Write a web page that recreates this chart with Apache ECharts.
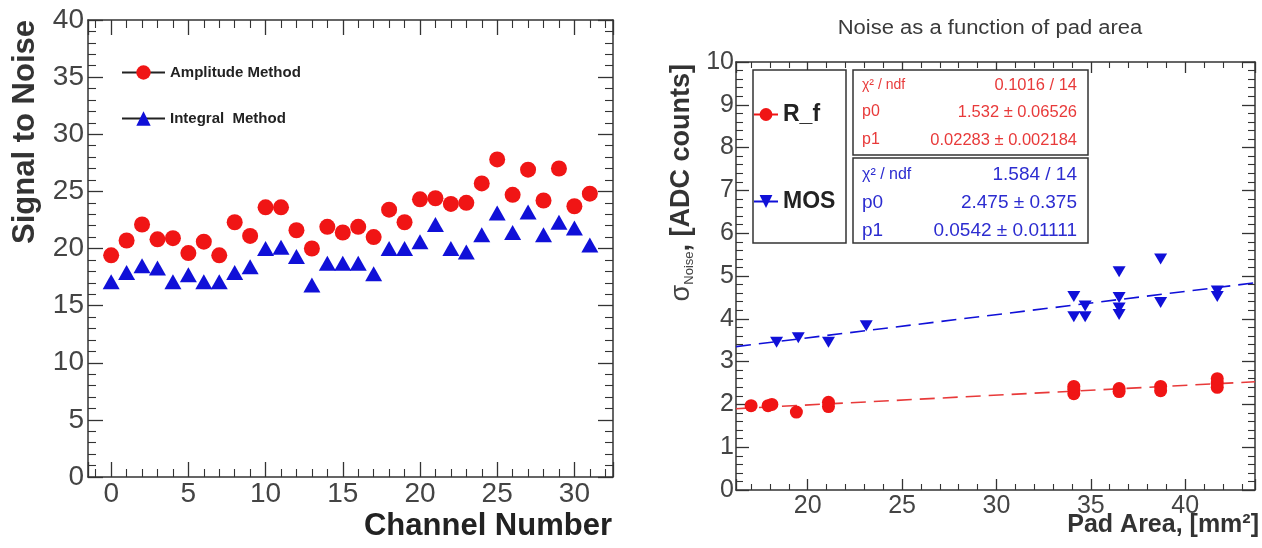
<!DOCTYPE html>
<html>
<head>
<meta charset="utf-8">
<script src="https://cdn.jsdelivr.net/npm/echarts@6/dist/echarts.min.js"></script>
<style>
html,body{margin:0;padding:0;background:#fff;}
#chart{width:1262px;height:548px;}
</style>
</head>
<body>
<div id="chart"></div>
<script>
// ---- Left panel data: Signal to Noise vs Channel ----
const channels = [0,1,2,3,4,5,6,7,8,9,10,11,12,13,14,15,16,17,18,19,20,21,22,23,24,25,26,27,28,29,30,31];
const amplitudeSN = [19.4,20.7,22.1,20.8,20.9,19.6,20.6,19.4,22.3,21.1,23.6,23.6,21.6,20.0,21.9,21.4,21.9,21.0,23.4,22.3,24.3,24.4,23.9,24.0,25.7,27.8,24.7,26.9,24.2,27.0,23.7,24.8];
const integralSN  = [17.1,17.9,18.5,18.3,17.1,17.7,17.1,17.1,17.9,18.4,20.0,20.1,19.3,16.8,18.7,18.7,18.7,17.8,20.0,20.0,20.6,22.1,20.0,19.7,21.2,23.1,21.4,23.2,21.2,22.3,21.8,20.3];

// ---- Right panel data: Noise vs pad area ----
const rfArea  = [17.0,17.9,18.1,19.4,21.1,21.1,34.1,34.1,34.1,36.5,36.5,38.7,38.7,41.7,41.7,41.7];
const rfNoise = [1.97,1.97,2.00,1.82,1.95,2.05,2.25,2.35,2.42,2.30,2.37,2.32,2.42,2.40,2.50,2.60];
const mosArea  = [18.35,19.5,21.1,23.1,34.1,34.1,34.7,34.7,36.5,36.5,36.5,36.5,38.7,38.7,41.7,41.7];
const mosNoise = [3.45,3.56,3.45,3.84,4.52,4.05,4.30,4.05,5.10,4.50,4.25,4.10,5.40,4.38,4.65,4.52];
// fit line end points
const rfFitX = [16.2, 43.7];
const rfFitY = [1.90, 2.53];
const mosFitX = [16.2, 43.7];
const mosFitY = [3.35, 4.84];

// stats box texts
const rfStats = [["\u03c7\u00b2 / ndf","0.1016 / 14"],["p0","1.532 \u00b1 0.06526"],["p1","0.02283 \u00b1 0.002184"]];
const mosStats = [["\u03c7\u00b2 / ndf","1.584 / 14"],["p0","2.475 \u00b1 0.375"],["p1","0.0542 \u00b1 0.01111"]];

const RED = '#f01515';
const BLUE = '#1010d8';
const RED_T = '#e83a3a';
const BLUE_T = '#2c2cd0';
const AX = '#333';
const FONT = 'Liberation Sans, Arial, sans-serif';

const zip = (a, b) => a.map((v, i) => [v, b[i]]);

function mkAxis(o) {
  const base = {
    type: 'value',
    splitLine: {show: false},
    axisLine: {show: true, onZero: false, lineStyle: {color: AX, width: 1.5}},
    axisTick: {show: true, inside: true, length: o.tl, lineStyle: {color: AX, width: 1.3}},
    minorTick: {show: true, splitNumber: o.minor, length: o.ml, lineStyle: {color: AX, width: 1.1}},
    axisLabel: o.labels ? {show: true, fontFamily: FONT, fontSize: o.fs, color: '#444', margin: o.margin,
      showMinLabel: o.showMin, showMaxLabel: o.showMax} : {show: false}
  };
  return Object.assign(base, o.extra);
}

const chart = echarts.init(document.getElementById('chart'), null, {renderer: 'canvas'});

const graphics = [];
// Title of right panel
graphics.push({type: 'text', x: 990, y: 28, scaleX: 1.1, z: 10,
  style: {text: 'Noise as a function of pad area', font: '20px ' + FONT, fill: '#3a3a3a', align: 'center', verticalAlign: 'middle'}});
// Axis titles
graphics.push({type: 'text', x: 25, y: 20, rotation: Math.PI / 2, z: 10,
  style: {text: 'Signal to Noise', font: 'bold 31px ' + FONT, fill: '#333', align: 'right', verticalAlign: 'middle'}});
graphics.push({type: 'text', x: 612, y: 526, z: 10,
  style: {text: 'Channel Number', font: 'bold 31px ' + FONT, fill: '#222', align: 'right', verticalAlign: 'middle'}});
graphics.push({type: 'text', x: 1259, y: 525, z: 10,
  style: {text: 'Pad Area, [mm\u00b2]', font: 'bold 25px ' + FONT, fill: '#333', align: 'right', verticalAlign: 'middle'}});
graphics.push({type: 'text', x: 682, y: 64, rotation: Math.PI / 2, z: 10,
  style: {text: '{s|\u03c3}{sub|Noise}{b|, [ADC counts]}', align: 'right', verticalAlign: 'middle', fill: '#333',
    rich: {
      s: {font: '27px ' + FONT, fill: '#444'},
      sub: {font: '13px ' + FONT, fill: '#444', verticalAlign: 'bottom', padding: [12, 0, 0, 0]},
      b: {font: 'bold 27px ' + FONT, fill: '#333'}
    }}});
// Legend box (right panel)
graphics.push({type: 'rect', z: 3, shape: {x: 753, y: 70, width: 93, height: 173},
  style: {fill: '#fff', stroke: '#333', lineWidth: 1.5}});
// Stats boxes
function statsBox(top, h, rows, ys, color, lf, vf) {
  graphics.push({type: 'rect', z: 3, shape: {x: 853, y: top, width: 235, height: h},
    style: {fill: '#fff', stroke: '#333', lineWidth: 1.5}});
  rows.forEach((r, i) => {
    const y = ys[i];
    graphics.push({type: 'text', z: 4, x: 862, y: y,
      style: {text: r[0], font: (i === 0 ? lf[0] : lf[1]) + 'px ' + FONT, fill: color, align: 'left', verticalAlign: 'middle'}});
    graphics.push({type: 'text', z: 4, x: 1077, y: y,
      style: {text: r[1], font: vf + 'px ' + FONT, fill: color, align: 'right', verticalAlign: 'middle'}});
  });
}
statsBox(70, 85, rfStats, [85, 112, 140], RED_T, [14, 16], 16.5);
statsBox(158, 85, mosStats, [175, 203, 231], BLUE_T, [16, 19], 19);

const option = {
  animation: false,
  backgroundColor: '#fff',
  grid: [
    {left: 88, top: 20, width: 525, height: 457},
    {left: 736, top: 62, width: 519, height: 428}
  ],
  xAxis: [
    mkAxis({tl: 15, ml: 8, minor: 5, labels: true, fs: 28, margin: 3, showMin: false, showMax: false,
      extra: {gridIndex: 0, position: 'bottom', min: -1.5, max: 32.5, splitNumber: 5}}),
    mkAxis({tl: 15, ml: 8, minor: 5, labels: false,
      extra: {gridIndex: 0, position: 'top', min: -1.5, max: 32.5, splitNumber: 5}}),
    mkAxis({tl: 11, ml: 6, minor: 5, labels: true, fs: 25, margin: 4, showMin: false, showMax: false,
      extra: {gridIndex: 1, position: 'bottom', min: 16.2, max: 43.7, splitNumber: 5}}),
    mkAxis({tl: 11, ml: 6, minor: 5, labels: false,
      extra: {gridIndex: 1, position: 'top', min: 16.2, max: 43.7, splitNumber: 5}})
  ],
  yAxis: [
    mkAxis({tl: 15, ml: 8, minor: 5, labels: true, fs: 28, margin: 4, showMin: true, showMax: true,
      extra: {gridIndex: 0, position: 'left', min: 0, max: 40, interval: 5}}),
    mkAxis({tl: 15, ml: 8, minor: 5, labels: false,
      extra: {gridIndex: 0, position: 'right', min: 0, max: 40, interval: 5}}),
    mkAxis({tl: 13, ml: 7, minor: 5, labels: true, fs: 25, margin: 2, showMin: true, showMax: true,
      extra: {gridIndex: 1, position: 'left', min: 0, max: 10, interval: 1}}),
    mkAxis({tl: 13, ml: 7, minor: 5, labels: false,
      extra: {gridIndex: 1, position: 'right', min: 0, max: 10, interval: 1}})
  ],
  legend: [
    {orient: 'vertical', left: 121, top: 65, padding: 0, itemWidth: 43, itemHeight: 18, itemGap: 31,
      data: ['Amplitude Method', 'Integral  Method'],
      lineStyle: {color: '#222', width: 2, opacity: 1},
      textStyle: {fontFamily: FONT, fontSize: 15, fontWeight: 'bold', color: '#222'}},
    {orient: 'vertical', left: 753, top: 103, padding: 0, itemWidth: 24, itemHeight: 16, itemGap: 64, z: 6,
      data: ['R_f', 'MOS'],
      lineStyle: {width: 2, opacity: 1},
      textStyle: {fontFamily: FONT, fontSize: 23, fontWeight: 'bold', color: '#222'}}
  ],
  graphic: graphics,
  series: [
    {name: 'Amplitude Method', type: 'line', xAxisIndex: 0, yAxisIndex: 0, data: zip(channels, amplitudeSN),
      symbol: 'circle', symbolSize: 16, itemStyle: {color: RED}, lineStyle: {opacity: 0, color: RED}, z: 5, silent: true},
    {name: 'Integral  Method', type: 'line', xAxisIndex: 0, yAxisIndex: 0, data: zip(channels, integralSN),
      symbol: 'triangle', symbolSize: [17, 15], itemStyle: {color: BLUE}, lineStyle: {opacity: 0, color: BLUE}, z: 5, silent: true},
    {name: 'R_f fit', type: 'line', xAxisIndex: 2, yAxisIndex: 2, data: zip(rfFitX, rfFitY), symbol: 'none',
      lineStyle: {color: RED_T, width: 1.6, type: [15, 8]}, z: 2, silent: true},
    {name: 'MOS fit', type: 'line', xAxisIndex: 2, yAxisIndex: 2, data: zip(mosFitX, mosFitY), symbol: 'none',
      lineStyle: {color: BLUE, width: 1.6, type: [15, 8]}, z: 2, silent: true},
    {name: 'R_f', type: 'line', xAxisIndex: 2, yAxisIndex: 2, data: zip(rfArea, rfNoise),
      symbol: 'circle', symbolSize: 13, itemStyle: {color: RED}, lineStyle: {opacity: 0, color: RED}, z: 5, silent: true},
    {name: 'MOS', type: 'line', xAxisIndex: 2, yAxisIndex: 2, data: zip(mosArea, mosNoise),
      symbol: 'triangle', symbolRotate: 180, symbolSize: [13, 11], itemStyle: {color: BLUE}, lineStyle: {opacity: 0, color: BLUE}, z: 5, silent: true}
  ]
};
chart.setOption(option);
</script>
</body>
</html>
